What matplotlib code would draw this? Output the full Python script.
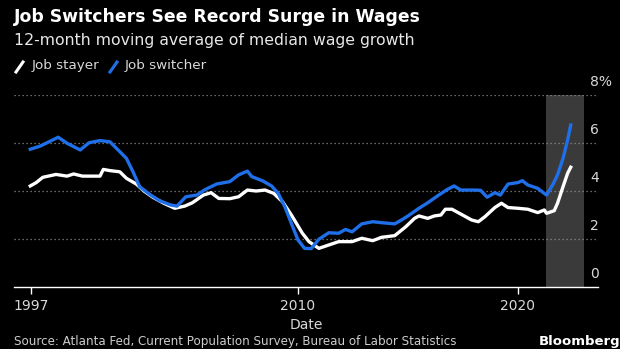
import matplotlib
matplotlib.use('Agg')
import matplotlib.pyplot as plt
from matplotlib.lines import Line2D
from matplotlib.transforms import blended_transform_factory, ScaledTranslation

# job switcher (blue), decimal years
years_sw = [1997.83, 1998.28, 1998.9, 1999.1, 1999.5, 2000.1, 2000.5, 2001.0, 2001.45, 2001.9,
            2002.2, 2002.5, 2002.8, 2003.3, 2003.7, 2004.2, 2004.5, 2004.9, 2005.4, 2005.8,
            2006.3, 2006.9, 2007.3, 2007.7, 2007.9, 2008.4, 2008.8, 2009.1, 2009.4, 2009.7,
            2010.0, 2010.3, 2010.6, 2010.95, 2011.4, 2011.85, 2012.16, 2012.46, 2012.9, 2013.4,
            2013.8, 2014.4, 2014.7, 2015.0, 2015.5, 2015.9, 2016.4, 2016.8, 2017.1, 2017.4,
            2018.0, 2018.3, 2018.6, 2018.95, 2019.2, 2019.55, 2020.0, 2020.2, 2020.45, 2020.9,
            2021.3, 2021.6, 2021.8, 2022.05, 2022.26, 2022.4]
switcher = [5.74, 5.87, 6.15, 6.24, 5.99, 5.71, 6.01, 6.1, 6.05, 5.64,
            5.36, 4.8, 4.18, 3.83, 3.6, 3.42, 3.37, 3.76, 3.83, 4.07,
            4.29, 4.39, 4.67, 4.83, 4.6, 4.42, 4.21, 3.9, 3.35, 2.65,
            1.96, 1.61, 1.6, 1.99, 2.26, 2.24, 2.4, 2.3, 2.63, 2.72,
            2.68, 2.63, 2.79, 2.96, 3.28, 3.51, 3.83, 4.07, 4.21, 4.04,
            4.04, 4.03, 3.74, 3.93, 3.83, 4.29, 4.35, 4.43, 4.25, 4.11,
            3.83, 4.29, 4.67, 5.36, 6.13, 6.75]

# job stayer (white)
years_st = [1997.83, 1998.1, 1998.4, 1999.0, 1999.5, 1999.8, 2000.2, 2001.0, 2001.15, 2001.45,
            2001.9, 2002.2, 2002.65, 2003.0, 2003.4, 2003.9, 2004.4, 2004.85, 2005.2, 2005.7,
            2006.05, 2006.4, 2006.9, 2007.3, 2007.7, 2008.1, 2008.5, 2008.9, 2009.3, 2009.7,
            2010.2, 2010.5, 2010.95, 2011.4, 2011.85, 2012.46, 2012.9, 2013.4, 2013.8, 2014.4,
            2014.9, 2015.3, 2015.5, 2015.9, 2016.2, 2016.5, 2016.7, 2017.0, 2017.4, 2017.9,
            2018.2, 2018.5, 2018.95, 2019.25, 2019.55, 2020.0, 2020.45, 2020.9, 2021.2, 2021.3,
            2021.65, 2021.8, 2022.05, 2022.26, 2022.4]
stayer = [4.21, 4.35, 4.57, 4.69, 4.62, 4.71, 4.62, 4.62, 4.9, 4.85,
          4.8, 4.53, 4.29, 4.0, 3.74, 3.49, 3.28, 3.37, 3.51, 3.83,
          3.93, 3.69, 3.68, 3.76, 4.04, 4.0, 4.04, 3.9, 3.55, 3.0,
          2.24, 1.89, 1.61, 1.75, 1.89, 1.89, 2.03, 1.93, 2.07, 2.14,
          2.51, 2.86, 2.96, 2.86, 2.96, 3.0, 3.24, 3.24, 3.04, 2.79,
          2.72, 2.93, 3.31, 3.49, 3.31, 3.28, 3.24, 3.1, 3.21, 3.07,
          3.18, 3.49, 4.18, 4.74, 4.99]

xtick_pos = [1997.86, 2010, 2020]
xtick_labels = ['1997', '2010', '2020']
ytick_vals = [0, 2, 4, 6, 8]
ytick_labels = ['0', '2', '4', '6', '8%']
shade = (2021.27, 2023.0)

blue = '#1f6fe8'
W, H = 620, 349

plt.rcParams['font.family'] = ['DejaVu Sans']
fig = plt.figure(figsize=(6.2, 3.49), dpi=100, facecolor='black')
ax = fig.add_axes([14 / W, 1 - 287 / H, (598 - 14) / W, (287 - 95) / H])
ax.set_facecolor('black')

ax.axvspan(shade[0], shade[1], color='#3a3a3a', zorder=0, lw=0)
for v in ytick_vals[1:]:
    ax.axhline(v, color='#8a8a8a', lw=0.9, dashes=(1, 2.2), zorder=1)

ax.plot(years_st, stayer, color='white', lw=2.4, zorder=3, solid_joinstyle='round')
ax.plot(years_sw, switcher, color=blue, lw=2.4, zorder=4, solid_joinstyle='round')

ax.set_xlim(1997.09, 2023.64)
ax.set_ylim(0, 8)
for s in ['top', 'right', 'left']:
    ax.spines[s].set_visible(False)
ax.spines['bottom'].set_color('white')
ax.spines['bottom'].set_linewidth(1.0)
ax.set_yticks([])
ax.set_xticks(xtick_pos, xtick_labels)
ax.tick_params(axis='x', colors='white', length=5, width=1, labelcolor='#d9d9d9',
               labelsize=10, pad=4)
ax.set_xlabel('Date', color='#d9d9d9', fontsize=10, labelpad=3)

# y labels sit above their gridlines on the right
tr = blended_transform_factory(fig.transFigure, ax.transData) + \
    ScaledTranslation(0, 4 / 72, fig.dpi_scale_trans)
for v, lbl in zip(ytick_vals, ytick_labels):
    ax.text(590 / W, v, lbl, transform=tr, color='#d9d9d9', fontsize=10,
            ha='left', va='bottom', clip_on=False)

# header
fig.text(14 / W, 1 - 17 / H, 'Job Switchers See Record Surge in Wages', color='white',
         fontsize=12.4, fontweight='bold', va='center', ha='left')
fig.text(14 / W, 1 - 40 / H, '12-month moving average of median wage growth', color='#e8e8e8',
         fontsize=11.3, va='center', ha='left')

# legend
fig.add_artist(Line2D([16 / W, 23 / W], [1 - 72 / H, 1 - 62 / H], color='white', lw=2.2,
                      transform=fig.transFigure))
fig.text(32 / W, 1 - 66 / H, 'Job stayer', color='#d9d9d9', fontsize=9.7, va='center')
fig.add_artist(Line2D([110 / W, 117 / W], [1 - 72 / H, 1 - 62 / H], color=blue, lw=2.2,
                      transform=fig.transFigure))
fig.text(125 / W, 1 - 66 / H, 'Job switcher', color='#d9d9d9', fontsize=9.7, va='center')

# footer
fig.text(14 / W, 1 - 348 / H, 'Source: Atlanta Fed, Current Population Survey, Bureau of Labor Statistics',
         color='#cccccc', fontsize=8.6, va='bottom', ha='left')
fig.text(539 / W, 1 - 348 / H, 'Bloomberg', color='white', fontsize=9.5, fontweight='bold',
         va='bottom', ha='left')

fig.savefig('out.png', dpi=100, facecolor='black')
